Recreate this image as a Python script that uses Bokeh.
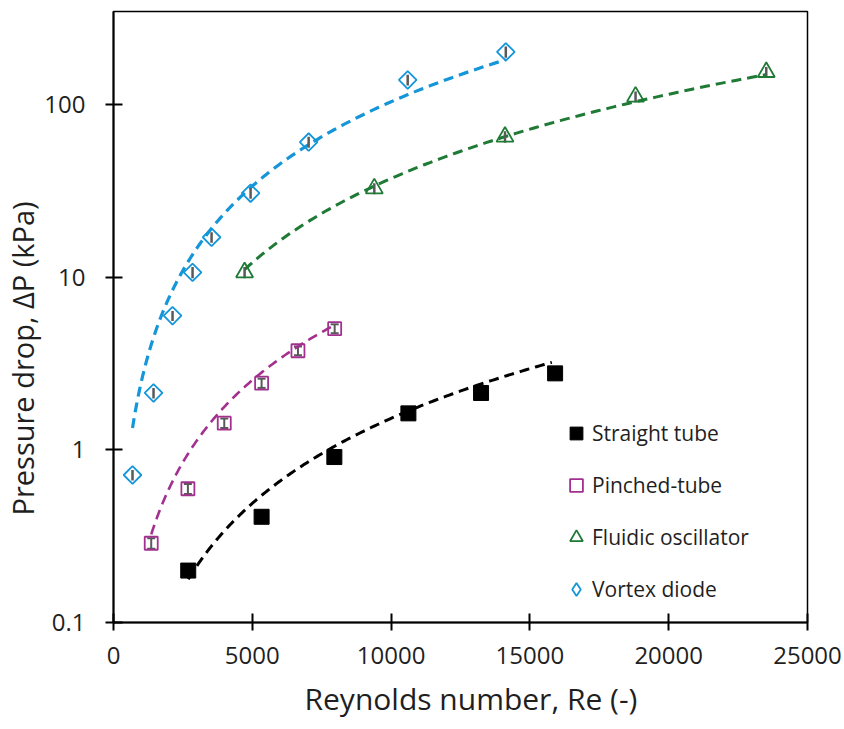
import numpy as np
from bokeh.plotting import figure
from bokeh.models import (FixedTicker, CustomJSTickFormatter, Range1d, Legend, LegendItem,
                          Title, Whisker, TeeHead, ColumnDataSource)
from bokeh.embed import file_html
from bokeh.resources import INLINE

# ---- data ----
straight_re = [2692, 5335, 7956, 10623, 13240, 15908]
straight_dp = [0.20, 0.41, 0.91, 1.63, 2.14, 2.78]

pinched_re = [1359, 2680, 3990, 5335, 6645, 7967]
pinched_dp = [0.288, 0.596, 1.43, 2.44, 3.76, 5.05]
pinched_err = [0.02, 0.04, 0.09, 0.15, 0.22, 0.3]

fluidic_re = [4722, 9395, 14103, 18806, 23515]
fluidic_dp = [10.7, 32.8, 65.4, 111.7, 155.0]
fluidic_err = [0.8, 2.4, 5.0, 8.0, 11.0]

vortex_re = [685, 1442, 2127, 2848, 3533, 4939, 7030, 10598, 14132]
vortex_dp = [0.716, 2.14, 6.0, 10.7, 17.1, 30.8, 60.9, 139.6, 203.0]
vortex_err = [0.05, 0.15, 0.4, 0.8, 1.2, 2.2, 4.5, 10.0, 15.0]

# power-law trendlines, end points
straight_trend_re = [2692, 15790]
straight_trend_dp = [0.178, 3.22]
pinched_trend_re = [1359, 7967]
pinched_trend_dp = [0.324, 5.3]
fluidic_trend_re = [4722, 23515]
fluidic_trend_dp = [11.1, 150.0]
vortex_trend_re = [685, 14132]
vortex_trend_dp = [1.34, 183.0]

x_ticks = [0, 5000, 10000, 15000, 20000, 25000]
y_ticks = [0.1, 1, 10, 100]

C_STRAIGHT = "#000000"
C_PINCHED = "#A3308F"
C_FLUIDIC = "#1E7A34"
C_VORTEX = "#1496D8"
C_ERR = "#595959"
FONT = "Open Sans"
TXT = "#1f1f1f"

p = figure(frame_width=694, frame_height=611, y_axis_type="log",
           x_range=Range1d(0, 25000), y_range=Range1d(0.1, 348),
           output_backend="svg", toolbar_location=None,
           min_border_left=112, min_border_right=38, min_border_top=11, min_border_bottom=107)
p.xgrid.visible = False
p.ygrid.visible = False
p.outline_line_color = "black"
p.outline_line_width = 1.5
p.background_fill_color = "white"
p.border_fill_color = "white"


def power_line(xe, ye, n=200):
    # straight line in log-log space between the two end points (a power law)
    lx = np.linspace(np.log(xe[0]), np.log(xe[1]), n)
    t = (lx - lx[0]) / (lx[-1] - lx[0])
    ly = np.log(ye[0]) + t * (np.log(ye[1]) - np.log(ye[0]))
    return np.exp(lx), np.exp(ly)


for xe, ye, col, w in [(straight_trend_re, straight_trend_dp, C_STRAIGHT, 3),
                       (pinched_trend_re, pinched_trend_dp, C_PINCHED, 2.6),
                       (fluidic_trend_re, fluidic_trend_dp, C_FLUIDIC, 3),
                       (vortex_trend_re, vortex_trend_dp, C_VORTEX, 3.2)]:
    tx, ty = power_line(xe, ye)
    p.line(tx, ty, line_color=col, line_width=w, line_dash="10 6")

# error bars
for xs, ys, es in [(fluidic_re, fluidic_dp, fluidic_err), (vortex_re, vortex_dp, vortex_err)]:
    p.segment(xs, [y - e for y, e in zip(ys, es)], xs, [y + e for y, e in zip(ys, es)],
              line_color=C_ERR, line_width=2.5)
pin_src = ColumnDataSource(dict(x=pinched_re,
                                lo=[y - e for y, e in zip(pinched_dp, pinched_err)],
                                hi=[y + e for y, e in zip(pinched_dp, pinched_err)]))
p.add_layout(Whisker(source=pin_src, base="x", lower="lo", upper="hi", dimension="height",
                     line_color=C_ERR, line_width=2,
                     upper_head=TeeHead(size=8, line_color=C_ERR, line_width=2),
                     lower_head=TeeHead(size=8, line_color=C_ERR, line_width=2)))

r_straight = p.scatter(straight_re, straight_dp, marker="square", size=15,
                       fill_color=C_STRAIGHT, line_color=C_STRAIGHT)
r_pinched = p.scatter(pinched_re, pinched_dp, marker="square", size=13,
                      fill_color=None, line_color=C_PINCHED, line_width=1.8)
r_fluidic = p.scatter(fluidic_re, fluidic_dp, marker="triangle", size=17,
                      fill_color=None, line_color=C_FLUIDIC, line_width=1.8)
r_vortex = p.scatter(vortex_re, vortex_dp, marker="square", size=12.5, angle=np.pi / 4,
                     fill_color=None, line_color=C_VORTEX, line_width=1.8)
# legend key for the diamond (legend glyphs ignore the rotation angle); zero size in the plot
r_vortex_key = p.scatter(vortex_re, vortex_dp, marker="diamond", size=0,
                         fill_color=None, line_color=C_VORTEX, line_width=1.8)

legend = Legend(items=[
    LegendItem(label="Straight tube", renderers=[r_straight]),
    LegendItem(label="Pinched-tube", renderers=[r_pinched]),
    LegendItem(label="Fluidic oscillator", renderers=[r_fluidic]),
    LegendItem(label="Vortex diode", renderers=[r_vortex_key]),
], location=(447, 14))
legend.border_line_color = None
legend.background_fill_alpha = 0
legend.label_text_font = FONT
legend.label_text_font_size = "21px"
legend.label_text_color = TXT
legend.glyph_width = 32
legend.glyph_height = 38
legend.spacing = 14
legend.label_standoff = 0
legend.padding = 0
legend.margin = 0
p.add_layout(legend)

p.xaxis.ticker = FixedTicker(ticks=x_ticks)
p.yaxis.ticker = FixedTicker(ticks=y_ticks)
p.yaxis.formatter = CustomJSTickFormatter(code="return String(tick);")
for ax in (p.xaxis, p.yaxis):
    ax.axis_line_color = "black"
    ax.axis_line_width = 2
    ax.major_tick_line_color = "black"
    ax.major_tick_line_width = 2
    ax.major_tick_in = 9
    ax.major_tick_out = 8
    ax.minor_tick_line_color = None
    ax.major_label_text_font = FONT
    ax.major_label_text_font_size = "24px"
    ax.major_label_text_color = TXT
p.xaxis.major_label_standoff = 16
p.yaxis.major_label_standoff = 20

# axis titles (slightly off-centre, as in the reference)
p.add_layout(Title(text="Reynolds number, Re (-)", align="left", offset=191,
                   text_font=FONT, text_font_size="30px", text_font_style="normal",
                   text_color=TXT, standoff=18), "below")
p.add_layout(Title(text="Pressure drop, ΔP (kPa)", align="left", offset=107,
                   text_font=FONT, text_font_size="29px", text_font_style="normal",
                   text_color=TXT, standoff=0), "left")

open("out.html", "w").write(file_html(p, INLINE))
